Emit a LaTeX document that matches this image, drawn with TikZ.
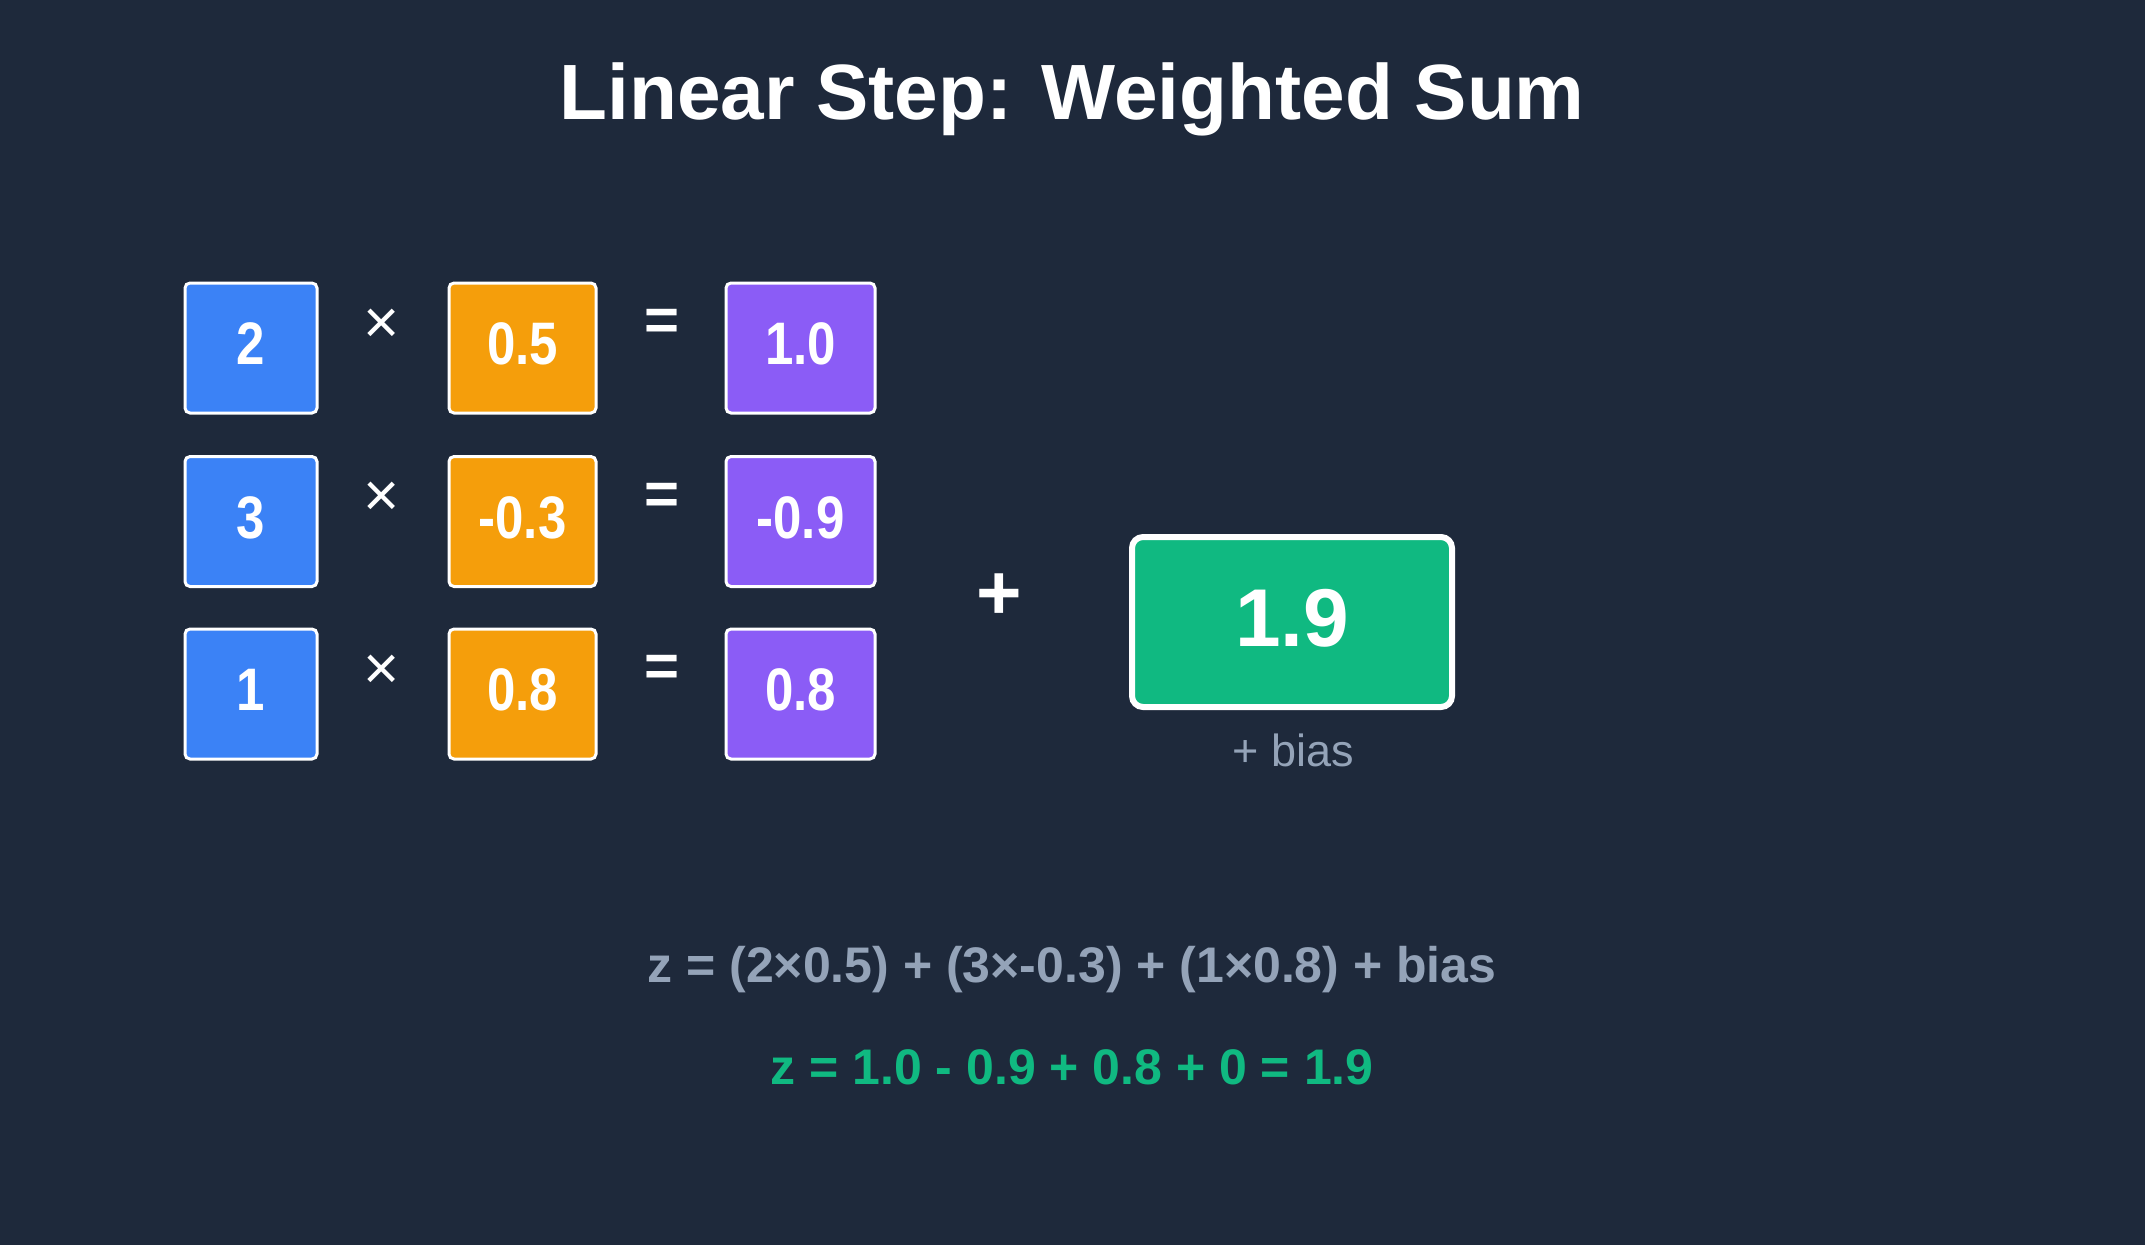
\documentclass[tikz,border=0pt]{standalone}
\usepackage{fontspec}
\setmainfont{Liberation Sans}
\newfontfamily\condfont{Liberation Sans}[FakeStretch=0.85]
\definecolor{bgc}{HTML}{1E293B}
\definecolor{bluec}{HTML}{3B82F6}
\definecolor{orangec}{HTML}{F59E0B}
\definecolor{purplec}{HTML}{8B5CF6}
\definecolor{greenc}{HTML}{10B981}
\definecolor{grayc}{HTML}{94A3B8}
\tikzset{
  numbox/.style={draw=white, line width=3pt, rounded corners=5pt, inner sep=0pt,
    text=white, font=\condfont\bfseries\fontsize{60}{66}\selectfont, minimum height=130pt,
    text depth=8pt},
  inbox/.style={numbox, fill=bluec, minimum width=132pt},
  wbox/.style={numbox, fill=orangec, minimum width=147pt},
  pbox/.style={numbox, fill=purplec, minimum width=149pt},
  timessym/.style={text=white, font=\fontsize{62}{66}\selectfont, inner sep=0pt},
  eqsym/.style={text=white, font=\bfseries\fontsize{60}{66}\selectfont, inner sep=0pt},
}
\begin{document}
\begin{tikzpicture}[x=1pt,y=-1pt]
\fill[bgc] (0,0) rectangle (2145,1245);
\useasboundingbox (0,0) rectangle (2145,1245);
\node[text=white, font=\bfseries\fontsize{78.4}{90}\selectfont] (title) at (1072,99) {Linear Step: Weighted Sum};
% row 1
\node[inbox] (x1) at (251,348) {2};
\node[timessym] (m1) at (382,326) {×};
\node[wbox] (w1) at (522.5,348) {0.5};
\node[eqsym] (e1) at (662,325) {=};
\node[pbox] (p1) at (800.5,348) {1.0};
% row 2
\node[inbox] (x2) at (251,521.5) {3};
\node[timessym] (m2) at (382,499.5) {×};
\node[wbox] (w2) at (522.5,521.5) {-0.3};
\node[eqsym] (e2) at (662,498.5) {=};
\node[pbox] (p2) at (800.5,521.5) {-0.9};
% row 3
\node[inbox] (x3) at (251,694) {1};
\node[timessym] (m3) at (382,672) {×};
\node[wbox] (w3) at (522.5,694) {0.8};
\node[eqsym] (e3) at (662,671) {=};
\node[pbox] (p3) at (800.5,694) {0.8};
% sum
\node[text=white, font=\bfseries\fontsize{78}{90}\selectfont, inner sep=0pt] (plus) at (999,597) {+};
\node[draw=white, line width=6pt, rounded corners=11pt, fill=greenc, minimum width=320pt, minimum height=170pt,
  text=white, font=\bfseries\fontsize{82}{90}\selectfont] (sum) at (1292,622) {\raisebox{9pt}{1.9}};
\node[text=grayc, font=\fontsize{45}{50}\selectfont, inner sep=0pt] (bias) at (1293,750) {+ bias};
% formulas
\node[text=grayc, font=\bfseries\fontsize{50}{60}\selectfont, inner sep=0pt] (f1) at (1072,970) {z = (2×0.5) + (3×-0.3) + (1×0.8) + bias};
\node[text=greenc, font=\bfseries\fontsize{50}{60}\selectfont, inner sep=0pt] (f2) at (1072,1067) {z = 1.0 - 0.9 + 0.8 + 0 = 1.9};
\end{tikzpicture}
\end{document}
